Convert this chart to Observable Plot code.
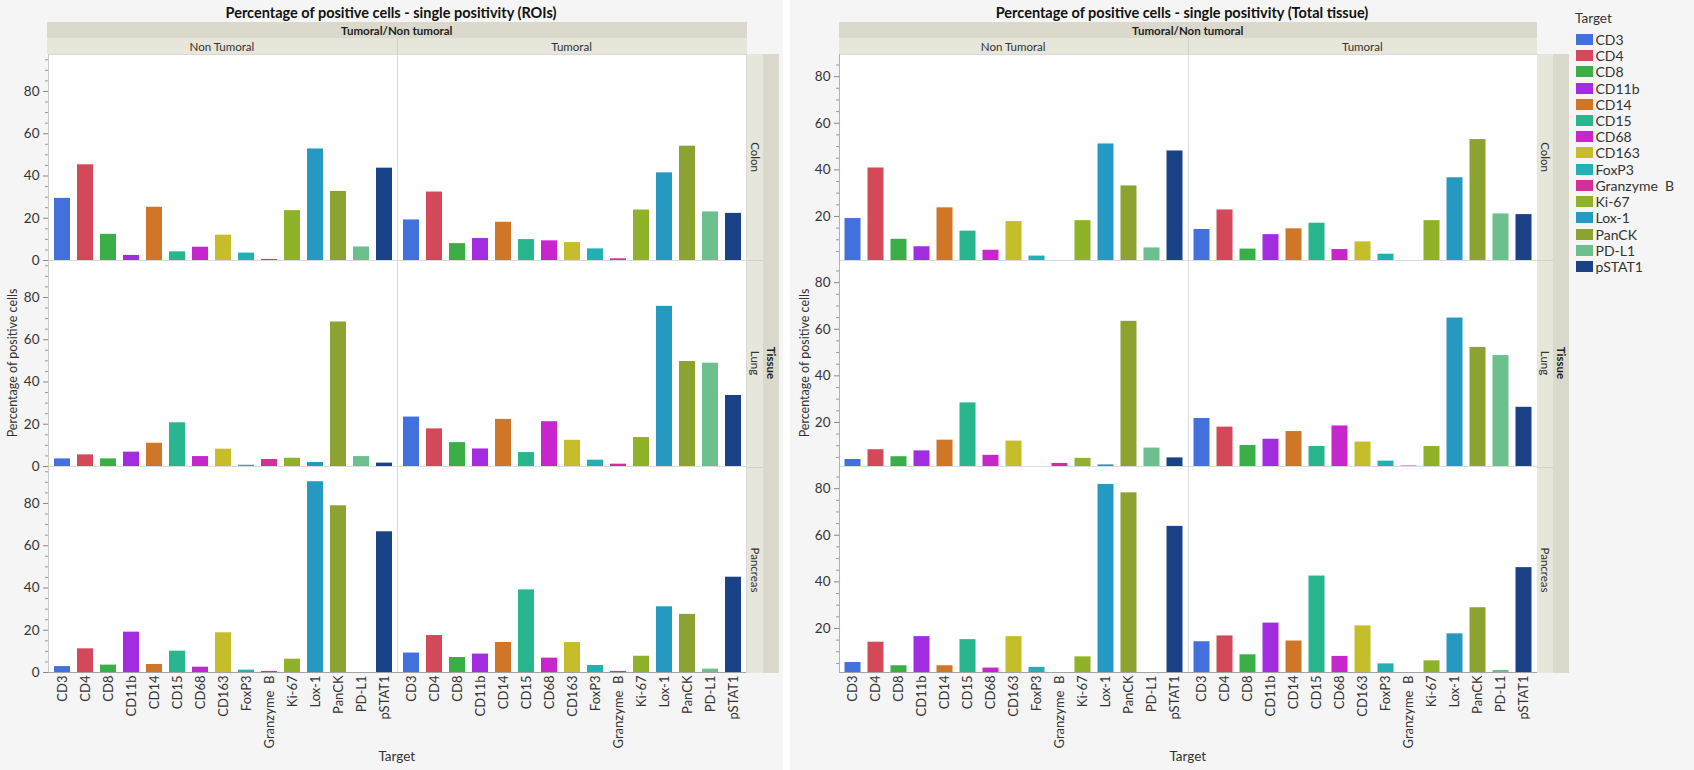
<!DOCTYPE html>
<html><head><meta charset="utf-8">
<script src="https://cdn.jsdelivr.net/npm/d3@7"></script>
<script src="https://cdn.jsdelivr.net/npm/@observablehq/plot@0.6"></script>
<style>
body{margin:0;background:#fff;font-family:Lato,"Noto Sans",sans-serif;}
#root{position:relative;width:1694px;height:770px;overflow:hidden;background:#f5f5f5;}
.abs{position:absolute;}
.c{position:absolute;transform:translate(-50%,-50%);white-space:nowrap;color:#222;}
.band1{position:absolute;background:#dbd9cb;}
.band2{position:absolute;background:#e7e6db;}
svg text{white-space:pre;}
.lg-swatch{height:16.24px !important;padding-bottom:0 !important;margin:0 !important;white-space:pre !important;}
.lg-swatch *{white-space:pre !important;}
.lg-swatch svg{margin-right:3px !important;}
</style></head><body><div id="root"></div>
<script>
// ---------- data ----------
const targets = ["CD3","CD4","CD8","CD11b","CD14","CD15","CD68","CD163","FoxP3","Granzyme  B","Ki-67","Lox-1","PanCK","PD-L1","pSTAT1"];
const targetColors = ["#4270DD","#D4495A","#3BAF47","#A22CE0","#CF7628","#28B68E","#C626CC","#C6BD2A","#23B0B4","#D42F98","#8FB228","#2699C2","#8CA332","#6BC08E","#1A4287"];
const tissues = ["Colon","Lung","Pancreas"];
const groups = ["Non Tumoral","Tumoral"];

// ROIs
const roiColonNonTumoral    = [29.4,45.3,12.4,2.4,25.2,4.1,6.3,12.0,3.5,0.5,23.6,52.8,32.7,6.4,43.7];
const roiColonTumoral       = [19.2,32.4,8.0,10.4,18.1,9.9,9.3,8.5,5.5,0.8,23.9,41.5,54.1,23.0,22.3];
const roiLungNonTumoral     = [3.6,5.5,3.6,6.8,11.0,20.7,4.7,8.2,0.6,3.3,3.9,1.9,68.4,4.7,1.6];
const roiLungTumoral        = [23.4,17.8,11.3,8.3,22.3,6.6,21.2,12.4,3.0,1.1,13.7,75.8,49.7,48.9,33.6];
const roiPancreasNonTumoral = [2.8,11.2,3.5,19.1,3.8,10.1,2.5,18.8,1.1,0.5,6.3,90.3,78.9,0,66.6];
const roiPancreasTumoral    = [9.2,17.5,7.1,8.7,14.2,39.1,6.8,14.2,3.3,0.5,7.7,31.1,27.5,1.6,45.1];

// Total tissue
const totColonNonTumoral    = [19.1,40.8,10.2,7.0,23.7,13.7,5.5,17.8,3.0,0,18.2,51.1,33.1,6.5,48.1];
const totColonTumoral       = [14.4,22.8,6.0,12.2,14.7,17.1,5.8,9.1,3.8,0,18.2,36.6,53.0,21.1,20.8];
const totLungNonTumoral     = [4.1,8.3,5.3,7.8,12.4,28.4,5.9,12.0,0.6,2.4,4.6,1.8,63.4,9.0,4.8];
const totLungTumoral        = [21.7,18.0,10.1,12.8,16.1,9.7,18.5,11.6,3.4,1.3,9.7,64.8,52.2,48.7,26.5];
const totPancreasNonTumoral = [5.4,14.1,4.0,16.5,4.0,15.2,3.0,16.5,3.3,0,7.8,81.8,78.2,0,63.8];
const totPancreasTumoral    = [14.3,16.8,8.7,22.3,14.6,42.5,8.0,21.1,4.8,0,6.1,17.7,28.9,2.0,46.1];

const roiMajorTicks = [0,20,40,60,80];
const totMajorTicks = [20,40,60,80];

// ---------- build tables ----------
function buildRows(series) {
  return tissues.flatMap((t, ti) => groups.flatMap((g, gi) =>
    targets.map((tg, i) => ({tissue: t, group: g, target: tg, value: series[ti][gi][i]}))));
}
const roiRows = buildRows([[roiColonNonTumoral, roiColonTumoral],[roiLungNonTumoral, roiLungTumoral],[roiPancreasNonTumoral, roiPancreasTumoral]]);
const totRows = buildRows([[totColonNonTumoral, totColonTumoral],[totLungNonTumoral, totLungTumoral],[totPancreasNonTumoral, totPancreasTumoral]]);

const root = document.getElementById("root");
function div(cls, css, text) {
  const d = document.createElement("div");
  d.className = cls;
  d.style.cssText = css;
  if (text != null) d.textContent = text;
  root.appendChild(d);
  return d;
}

const M = {top: 53.5, bottom: 97};
const H = 770;

function chart(rows, {left, width, marginLeft, marginRight, yDomain, majorTicks}) {
  const minor = d3.range(5, yDomain[1], 5).filter(v => v % 20 !== 0 && v >= yDomain[0]);
  const panelW = (width - marginLeft - marginRight) / 2;
  const p = Plot.plot({
    width, height: H, marginTop: M.top, marginBottom: M.bottom, marginLeft, marginRight,
    style: {background: "transparent", fontFamily: "Lato, 'Noto Sans', sans-serif", fontSize: "13px", color: "#333", overflow: "visible"},
    facet: {data: rows, x: "group", y: "tissue"},
    fx: {domain: groups, padding: 0, axis: null},
    fy: {domain: tissues, padding: 0, axis: null},
    x: {domain: targets, paddingInner: 0.32, paddingOuter: 0.165, axis: null},
    y: {domain: yDomain, axis: null, label: null},
    color: {domain: targets, range: targetColors},
    marks: [
      Plot.frame({fill: "white", stroke: "#dadada"}),
      Plot.barY(rows, {x: "target", y: "value", fill: "target", clip: true}),
      Plot.rect([0], {fill: "#a3a3a3", insetRight: panelW - 1, facetAnchor: "left"}),
      Plot.ruleY([yDomain[0]], {stroke: "#a3a3a3", facetAnchor: "bottom"}),
      Plot.axisY({ticks: minor, tickSize: 3, tickFormat: () => "", label: null, stroke: "#999"}),
      Plot.axisY({ticks: majorTicks, tickSize: 5, tickPadding: 4, label: null, stroke: "#888", fill: "#333", fontSize: 13.5}),
      Plot.axisX({tickRotate: -90, tickSize: 0, tickPadding: 3, label: null, fill: "#333", fontSize: 13})
    ]
  });
  p.style.position = "absolute";
  p.style.left = left + "px";
  p.style.top = "0px";
  root.appendChild(p);
  return {x0: left + marginLeft, x1: left + width - marginRight};
}

function decorations(x0, x1, title, titleX, yTitleX) {
  const xm = (x0 + x1) / 2;
  div("c", `left:${titleX}px;top:11.5px;font-weight:bold;font-size:14.5px;color:#111;`, title);
  div("band1", `left:${x0}px;top:21.5px;width:${x1 - x0}px;height:16px;`);
  div("band2", `left:${x0}px;top:37.5px;width:${x1 - x0}px;height:16px;`);
  div("abs", `left:${xm}px;top:37.5px;width:1px;height:16px;background:#d2d1c6;`);
  div("c", `left:${xm}px;top:29.5px;font-weight:bold;font-size:11.5px;`, "Tumoral/Non tumoral");
  div("c", `left:${(x0 + xm) / 2}px;top:45.5px;font-size:11.5px;color:#333;`, groups[0]);
  div("c", `left:${(xm + x1) / 2}px;top:45.5px;font-size:11.5px;color:#333;`, groups[1]);
  // facet strips
  const rowH = (H - M.top - M.bottom) / 3;
  div("band2", `left:${x1}px;top:${M.top}px;width:16px;height:${H - M.top - M.bottom}px;`);
  div("band1", `left:${x1 + 16}px;top:${M.top}px;width:16px;height:${H - M.top - M.bottom}px;`);
  tissues.forEach((t, i) => {
    const cy = M.top + rowH * (i + 0.5);
    if (i > 0) div("abs", `left:${x1}px;top:${M.top + rowH * i}px;width:16px;height:1px;background:#d2d1c6;`);
    div("c", `left:${x1 + 8}px;top:${cy}px;font-size:11.5px;color:#333;transform:translate(-50%,-50%) rotate(90deg);`, t);
  });
  div("c", `left:${x1 + 24}px;top:${M.top + rowH * 1.5}px;font-size:11.5px;font-weight:bold;transform:translate(-50%,-50%) rotate(90deg);`, "Tissue");
  div("c", `left:${yTitleX}px;top:363px;font-size:12.5px;color:#333;transform:translate(-50%,-50%) rotate(-90deg);`, "Percentage of positive cells");
  div("c", `left:${xm}px;top:756px;font-size:13.5px;color:#333;`, "Target");
}

// backgrounds: white gap between the two reports
div("abs", "left:783px;top:0;width:7px;height:770px;background:#fff;");

const L = chart(roiRows, {left: 0, width: 783, marginLeft: 47, marginRight: 36.5, yDomain: [0, 97.5], majorTicks: roiMajorTicks});
decorations(L.x0, L.x1, "Percentage of positive cells - single positivity (ROIs)", 391, 12);

const R = chart(totRows, {left: 790, width: 780, marginLeft: 48.5, marginRight: 33, yDomain: [1.1, 89.5], majorTicks: totMajorTicks});
decorations(R.x0, R.x1, "Percentage of positive cells - single positivity (Total tissue)", 1182, 803.5);

// legend
div("abs", "left:1575px;top:9px;font-size:13.5px;color:#333;line-height:18px;", "Target");
const lg = Plot.legend({
  color: {domain: targets, range: targetColors},
  swatchWidth: 17, swatchHeight: 11, columns: 1, className: "lg",
  style: {fontFamily: "Lato, 'Noto Sans', sans-serif", fontSize: "14px", color: "#333", background: "transparent"}
});
const lgWrap = div("abs", "left:1575.5px;top:31.2px;width:118px;");
lgWrap.appendChild(lg);
</script></body></html>
